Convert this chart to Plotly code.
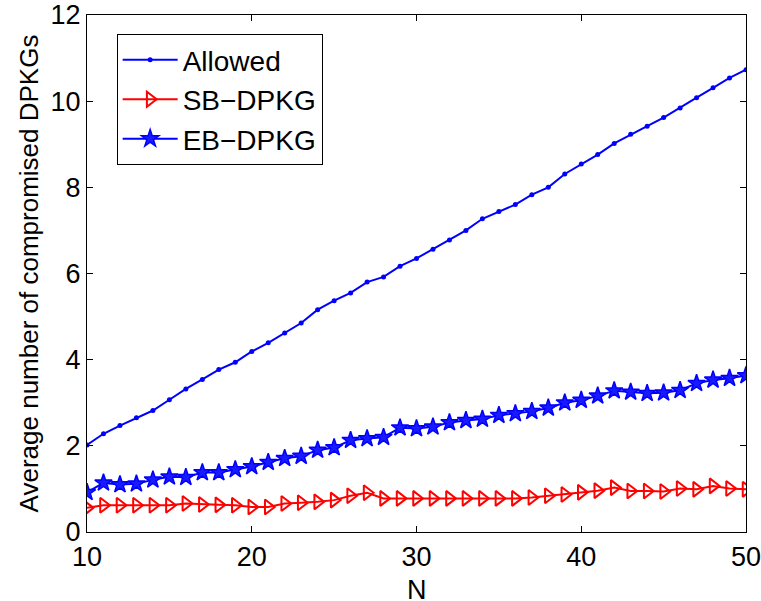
import plotly.graph_objects as go

N = list(range(10, 51))

allowed = [2.02, 2.28, 2.47, 2.65, 2.82, 3.07, 3.32, 3.54, 3.77, 3.94,
           4.19, 4.39, 4.62, 4.85, 5.16, 5.37, 5.55, 5.80, 5.92, 6.17,
           6.35, 6.56, 6.78, 7.00, 7.27, 7.44, 7.60, 7.83, 8.00, 8.31,
           8.54, 8.76, 9.02, 9.23, 9.42, 9.62, 9.84, 10.08, 10.31, 10.54,
           10.73]

sb_dpkg = [0.56, 0.62, 0.62, 0.62, 0.62, 0.62, 0.66, 0.64, 0.63, 0.62,
           0.58, 0.58, 0.66, 0.68, 0.70, 0.74, 0.84, 0.91, 0.78, 0.78,
           0.78, 0.78, 0.78, 0.78, 0.78, 0.78, 0.78, 0.80, 0.84, 0.87,
           0.92, 0.96, 1.03, 0.95, 0.95, 0.94, 1.01, 0.99, 1.07, 1.01,
           0.99]

eb_dpkg = [0.92, 1.14, 1.10, 1.12, 1.21, 1.28, 1.27, 1.38, 1.38, 1.45,
           1.52, 1.62, 1.71, 1.76, 1.90, 1.96, 2.13, 2.17, 2.20, 2.42,
           2.40, 2.44, 2.54, 2.59, 2.62, 2.71, 2.75, 2.80, 2.88, 3.00,
           3.06, 3.16, 3.28, 3.25, 3.22, 3.23, 3.29, 3.45, 3.53, 3.57,
           3.63]

x_ticks = [10, 20, 30, 40, 50]
y_ticks = [0, 2, 4, 6, 8, 10, 12]

FONT = "Liberation Sans, Arial, Helvetica, sans-serif"

fig = go.Figure()
fig.add_trace(go.Scatter(
    x=N, y=allowed, name="Allowed", mode="lines+markers",
    line=dict(color="#0000ff", width=2),
    marker=dict(symbol="circle", size=5, color="#0000ff"),
))
fig.add_trace(go.Scatter(
    x=N, y=sb_dpkg, name="SB\u2212DPKG", mode="lines+markers",
    line=dict(color="#ff0000", width=2),
    marker=dict(symbol="triangle-right-open", size=13, color="#ff0000",
                line=dict(width=2, color="#ff0000")),
))
fig.add_trace(go.Scatter(
    x=N, y=eb_dpkg, name="EB\u2212DPKG", mode="lines+markers",
    line=dict(color="#0000ff", width=2),
    marker=dict(symbol="star", size=13, color="#1a1aff",
                line=dict(width=1.5, color="#0000ff")),
))

axis_common = dict(
    showgrid=False, zeroline=False,
    showline=True, linecolor="black", linewidth=1,
    mirror="ticks", ticks="inside", ticklen=6, tickwidth=1, tickcolor="black",
    tickfont=dict(family=FONT, size=27, color="black"),
    ticklabeloverflow="allow",
)

fig.update_layout(
    width=761, height=601,
    margin=dict(l=87, r=15, t=15, b=69),
    paper_bgcolor="white", plot_bgcolor="white",
    font=dict(family=FONT, color="black"),
    showlegend=True,
    legend=dict(
        x=0.045, y=0.963, xanchor="left", yanchor="top",
        bgcolor="white", bordercolor="black", borderwidth=1,
        font=dict(family=FONT, size=28, color="black"),
        tracegroupgap=0, itemwidth=55,
    ),
    xaxis=dict(
        range=[10, 50], tickvals=x_ticks, ticktext=[str(v) for v in x_ticks],
        automargin=False, ticklabelstandoff=1,
        **axis_common,
    ),
    yaxis=dict(
        range=[0, 12], tickvals=y_ticks, ticktext=[str(v) for v in y_ticks],
        title=dict(text="Average number of compromised DPKGs",
                   font=dict(family=FONT, size=26), standoff=4),
        automargin=False,
        **axis_common,
    ),
    annotations=[dict(
        text="N", xref="paper", yref="paper", x=0.5, y=-0.112,
        xanchor="center", yanchor="middle", showarrow=False,
        font=dict(family=FONT, size=27, color="black"),
    )],
)

fig.write_html("out.html")
